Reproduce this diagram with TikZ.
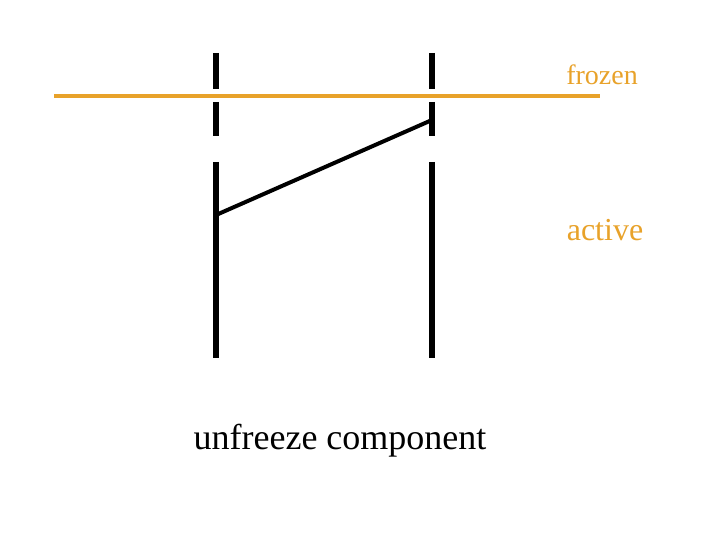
\documentclass[tikz,border=0pt]{standalone}
\usepackage{fontspec}
\setmainfont{Liberation Serif}
\definecolor{frz}{RGB}{232,162,42}
\begin{document}
\begin{tikzpicture}[x=1pt,y=-1pt,
  bar/.style={line width=5.5pt,black},
  link/.style={line width=4pt,black},
  frzline/.style={line width=3.8pt,frz},
  lbl/.style={inner sep=0pt,anchor=center}]
\useasboundingbox (0,0) rectangle (720,540);
% coordinates of bar segments
\coordinate (L1a) at (216,53); \coordinate (L1b) at (216,89);
\coordinate (L2a) at (216,102); \coordinate (L2b) at (216,136);
\coordinate (L3a) at (216,162); \coordinate (L3b) at (216,358);
\coordinate (R1a) at (432,53); \coordinate (R1b) at (432,89);
\coordinate (R2a) at (432,102); \coordinate (R2b) at (432,136);
\coordinate (R3a) at (432,162); \coordinate (R3b) at (432,358);
\draw[bar] (L1a) -- (L1b); \draw[bar] (L2a) -- (L2b); \draw[bar] (L3a) -- (L3b);
\draw[bar] (R1a) -- (R1b); \draw[bar] (R2a) -- (R2b); \draw[bar] (R3a) -- (R3b);
\coordinate (fa) at (54,96); \coordinate (fb) at (600,96);
\draw[frzline] (fa) -- (fb);
\coordinate (da) at (216,215); \coordinate (db) at (432,120);
\draw[link] (da) -- (db);
\node[lbl,text=frz,font=\fontsize{28}{32}\selectfont] (frozen) at (602,75) {frozen};
\node[lbl,text=frz,font=\fontsize{32}{36}\selectfont] (active) at (605,230) {active};
\node[lbl,font=\fontsize{36}{40}\selectfont] (unf) at (340,441) {unfreeze component};
\end{tikzpicture}
\end{document}
